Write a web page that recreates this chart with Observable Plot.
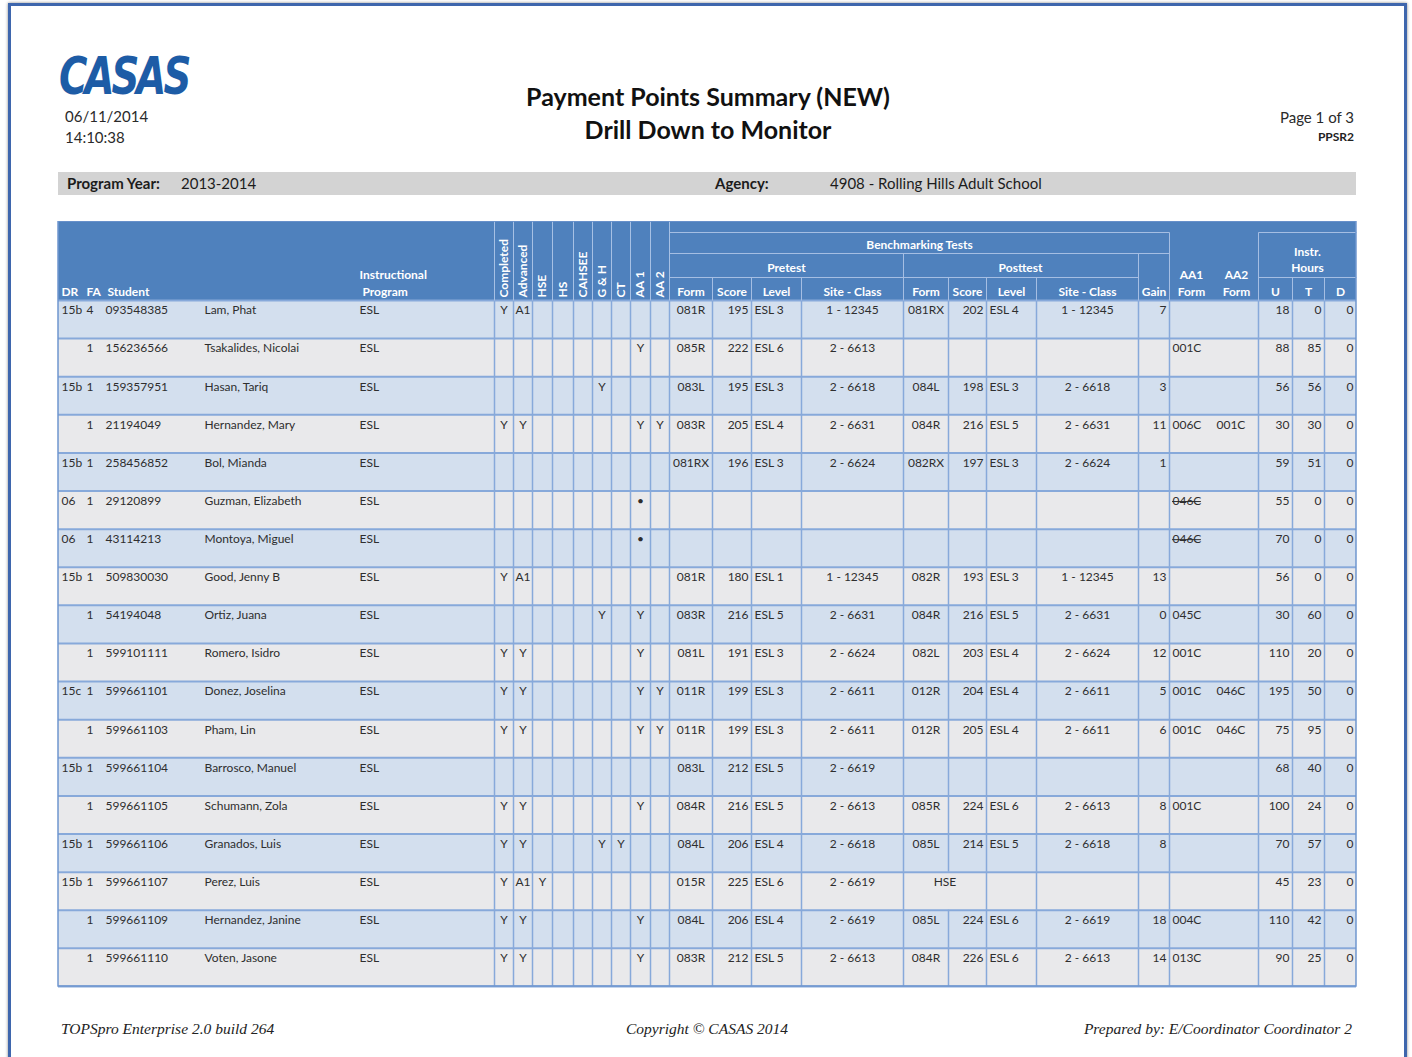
<!DOCTYPE html>
<html><head><meta charset="utf-8">
<script src="https://cdn.jsdelivr.net/npm/d3@7"></script>
<script src="https://cdn.jsdelivr.net/npm/@observablehq/plot@0.6"></script>
<style>
body{margin:0;background:#fff;font-family:Lato,"Open Sans",sans-serif;color:#222;}
#page{position:relative;width:1412px;height:1057px;overflow:hidden;background:#fff;}
.frame{position:absolute;left:8px;top:3px;width:1393px;height:1120px;border:3px solid #3e66ad;box-shadow:0 0 3px #8a8a8a;}
.abs{position:absolute;white-space:nowrap;}
.logo{left:59px;top:46px;font-family:"DejaVu Sans",sans-serif;font-weight:bold;font-style:italic;font-size:52px;line-height:60px;letter-spacing:-4px;color:#1d5ca6;transform:scaleX(0.745);transform-origin:left center;}
.small{font-size:15px;line-height:18px;color:#2a2a2a;}
.title{left:0;width:1416px;text-align:center;font-weight:bold;font-size:25px;line-height:30px;color:#111;}
.bar{left:58px;top:172px;width:1298px;height:23px;background:#d3d3d3;}
.bar span{position:absolute;top:2px;font-size:15px;line-height:19px;color:#1c1c1c;}
.foot{top:1020px;font-family:"Liberation Serif","Times New Roman",serif;font-style:italic;font-size:15.5px;color:#222;}
#chart{position:absolute;left:0;top:221px;}
</style></head>
<body><div id="page">
<div class="frame"></div>
<div class="abs logo">CASAS</div>
<div class="abs small" style="left:65px;top:107px">06/11/2014</div>
<div class="abs small" style="left:65px;top:128px">14:10:38</div>
<div class="abs title" style="top:81px">Payment Points Summary (NEW)</div>
<div class="abs title" style="top:114px">Drill Down to Monitor</div>
<div class="abs small" style="right:58px;top:108px">Page 1 of 3</div>
<div class="abs" style="right:58px;top:129px;font-size:12px;font-weight:bold;color:#222">PPSR2</div>
<div class="abs bar">
  <span style="left:9px;font-weight:bold">Program Year:</span>
  <span style="left:123px">2013-2014</span>
  <span style="left:657px;font-weight:bold">Agency:</span>
  <span style="left:772px">4908 - Rolling Hills Adult School</span>
</div>
<div id="chart"></div>
<div class="abs foot" style="left:61px">TOPSpro Enterprise 2.0 build 264</div>
<div class="abs foot" style="left:0;width:1414px;text-align:center">Copyright © CASAS 2014</div>
<div class="abs foot" style="right:60px">Prepared by: E/Coordinator Coordinator 2</div>
</div>
<script>
// ---------------- DATA ----------------
const drCodes = ["15b","","15b","","15b","06","06","15b","","","15c","","15b","","15b","15b","",""];
const faCodes = ["4","1","1","1","1","1","1","1","1","1","1","1","1","1","1","1","1","1"];
const studentIds = ["093548385","156236566","159357951","21194049","258456852","29120899","43114213","509830030","54194048","599101111","599661101","599661103","599661104","599661105","599661106","599661107","599661109","599661110"];
const studentNames = ["Lam, Phat","Tsakalides, Nicolai","Hasan, Tariq","Hernandez, Mary","Bol, Mianda","Guzman, Elizabeth","Montoya, Miguel","Good, Jenny B","Ortiz, Juana","Romero, Isidro","Donez, Joselina","Pham, Lin","Barrosco, Manuel","Schumann, Zola","Granados, Luis","Perez, Luis","Hernandez, Janine","Voten, Jasone"];
const programs = ["ESL","ESL","ESL","ESL","ESL","ESL","ESL","ESL","ESL","ESL","ESL","ESL","ESL","ESL","ESL","ESL","ESL","ESL"];
const completedFlags = ["Y","","","Y","","","","Y","","Y","Y","Y","","Y","Y","Y","Y","Y"];
const advancedFlags  = ["A1","","","Y","","","","A1","","Y","Y","Y","","Y","Y","A1","Y","Y"];
const hseFlags       = ["","","","","","","","","","","","","","","","Y","",""];
const hsFlags        = ["","","","","","","","","","","","","","","","","",""];
const cahseeFlags    = ["","","","","","","","","","","","","","","","","",""];
const ghFlags        = ["","","Y","","","","","","Y","","","","","","Y","","",""];
const ctFlags        = ["","","","","","","","","","","","","","","Y","","",""];
const aa1Flags       = ["","Y","","Y","","•","•","","Y","Y","Y","Y","","Y","","","Y","Y"];
const aa2Flags       = ["","","","Y","","","","","","","Y","Y","","","","","",""];
const preForms  = ["081R","085R","083L","083R","081RX","","","081R","083R","081L","011R","011R","083L","084R","084L","015R","084L","083R"];
const preScores = ["195","222","195","205","196","","","180","216","191","199","199","212","216","206","225","206","212"];
const preLevels = ["ESL 3","ESL 6","ESL 3","ESL 4","ESL 3","","","ESL 1","ESL 5","ESL 3","ESL 3","ESL 3","ESL 5","ESL 5","ESL 4","ESL 6","ESL 4","ESL 5"];
const preSites  = ["1 - 12345","2 - 6613","2 - 6618","2 - 6631","2 - 6624","","","1 - 12345","2 - 6631","2 - 6624","2 - 6611","2 - 6611","2 - 6619","2 - 6613","2 - 6618","2 - 6619","2 - 6619","2 - 6613"];
const postForms  = ["081RX","","084L","084R","082RX","","","082R","084R","082L","012R","012R","","085R","085L","HSE","085L","084R"];
const postScores = ["202","","198","216","197","","","193","216","203","204","205","","224","214","","224","226"];
const postLevels = ["ESL 4","","ESL 3","ESL 5","ESL 3","","","ESL 3","ESL 5","ESL 4","ESL 4","ESL 4","","ESL 6","ESL 5","","ESL 6","ESL 6"];
const postSites  = ["1 - 12345","","2 - 6618","2 - 6631","2 - 6624","","","1 - 12345","2 - 6631","2 - 6624","2 - 6611","2 - 6611","","2 - 6613","2 - 6618","","2 - 6619","2 - 6613"];
const gains = ["7","","3","11","1","","","13","0","12","5","6","","8","8","","18","14"];
const aa1Forms = ["","001C","","006C","","046C","046C","","045C","001C","001C","001C","","001C","","","004C","013C"];
const aa1FormVoided = [false,false,false,false,false,true,true,false,false,false,false,false,false,false,false,false,false,false];
const aa2Forms = ["","","","001C","","","","","","","046C","046C","","","","","",""];
const hoursU = [18,88,56,30,59,55,70,56,30,110,195,75,68,100,70,45,110,90];
const hoursT = [0,85,56,30,51,0,0,0,60,20,50,95,40,24,57,23,42,25];
const hoursD = [0,0,0,0,0,0,0,0,0,0,0,0,0,0,0,0,0,0];

// header labels
const rotatedHeaders = ["Completed","Advanced","HSE","HS","CAHSEE","G & H","CT","AA 1","AA 2"];
const groupHeaders = ["Benchmarking Tests","Pretest","Posttest","Instr.","Hours"];
const columnHeaders = ["DR","FA","Student","Instructional","Program","Form","Score","Level","Site - Class","Form","Score","Level","Site - Class","Gain","AA1","Form","AA2","Form","U","T","D"];

// ---------------- LAYOUT ----------------
const W = 1412, headH = 79, rowH = 38.11, nRows = studentIds.length, H = headH + nRows * rowH + 2;
const L = 58, R = 1356;
const FONT = "Lato, 'Open Sans', sans-serif";
const cols = [
  {v: drCodes, x0: 58, x1: 83, a: "start"},
  {v: faCodes, x0: 83, x1: 96, a: "end"},
  {v: studentIds, x0: 102, x1: 201, a: "start"},
  {v: studentNames, x0: 201, x1: 356, a: "start"},
  {v: programs, x0: 356, x1: 494, a: "start"},
  {v: completedFlags, x0: 494, x1: 513, a: "middle"},
  {v: advancedFlags, x0: 513, x1: 532, a: "middle"},
  {v: hseFlags, x0: 532, x1: 552, a: "middle"},
  {v: hsFlags, x0: 552, x1: 573, a: "middle"},
  {v: cahseeFlags, x0: 573, x1: 592, a: "middle"},
  {v: ghFlags, x0: 592, x1: 611, a: "middle"},
  {v: ctFlags, x0: 611, x1: 630, a: "middle"},
  {v: aa1Flags, x0: 630, x1: 650, a: "middle"},
  {v: aa2Flags, x0: 650, x1: 669, a: "middle"},
  {v: preForms, x0: 669, x1: 712, a: "middle"},
  {v: preScores, x0: 712, x1: 751, a: "end"},
  {v: preLevels, x0: 751, x1: 801, a: "start"},
  {v: preSites, x0: 801, x1: 903, a: "middle"},
  {v: postForms, x0: 903, x1: 948, a: "middle", merge: 986},
  {v: postScores, x0: 948, x1: 986, a: "end"},
  {v: postLevels, x0: 986, x1: 1036, a: "start"},
  {v: postSites, x0: 1036, x1: 1138, a: "middle"},
  {v: gains, x0: 1138, x1: 1169, a: "end"},
  {v: aa1Forms, x0: 1169, x1: 1213, a: "start", strike: aa1FormVoided},
  {v: aa2Forms, x0: 1213, x1: 1258, a: "start"},
  {v: hoursU, x0: 1258, x1: 1292, a: "end"},
  {v: hoursT, x0: 1292, x1: 1324, a: "end"},
  {v: hoursD, x0: 1324, x1: 1356, a: "end"}
];
const bodyEdges = [494,513,532,552,573,592,611,630,650,669,712,751,801,903,948,986,1036,1138,1169,1258,1292,1324];

const rowTop = i => headH + i * rowH;
const textX = (c, s) => c.a === "start" ? c.x0 + 3 : c.a === "end" ? c.x1 - 3 : (s ? (c.x0 + s) / 2 : (c.x0 + c.x1) / 2);
const ctx = document.createElement("canvas").getContext("2d");
ctx.font = "12px Lato";
const textWidth = t => ctx.measureText(t).width;

const cellTexts = [];
cols.forEach(c => c.v.forEach((val, i) => {
  const t = String(val);
  if (t === "") return;
  const merged = c.merge && postScores[i] === "" && t === "HSE";
  cellTexts.push({x: textX(c, merged ? c.merge : null), y: rowTop(i) + 10, text: t, anchor: c.a, strike: c.strike ? c.strike[i] : false});
}));
const strikes = cellTexts.filter(d => d.strike).map(d => ({x1: d.x, x2: d.x + textWidth(d.text), y: d.y + 0.5}));

const rowBands = studentIds.map((id, i) => ({y1: rowTop(i), y2: rowTop(i + 1), fill: i % 2 ? "#e9e9eb" : "#d3dfee"}));
const vSegs = [];
studentIds.forEach((id, i) => bodyEdges.forEach(x => {
  if (x === 948 && postForms[i] === "HSE" && postScores[i] === "") return;
  vSegs.push({x, y1: rowTop(i), y2: rowTop(i + 1)});
}));
const hLines = d3.range(nRows + 1).map(i => rowTop(i));

const headerLines = [
  {x1: 669, x2: 1169, y1: 11, y2: 11}, {x1: 1258, x2: 1356, y1: 11, y2: 11},
  {x1: 669, x2: 1169, y1: 32, y2: 32},
  {x1: 669, x2: 1138, y1: 56, y2: 56}, {x1: 1258, x2: 1356, y1: 56, y2: 56},
  ...[494,513,532,552,573,592,611,630,650,669].map(x => ({x1: x, x2: x, y1: 0, y2: headH})),
  ...[903,1138].map(x => ({x1: x, x2: x, y1: 32, y2: headH})),
  ...[1169,1258].map(x => ({x1: x, x2: x, y1: 11, y2: headH})),
  ...[712,751,801,948,986,1036,1292,1324].map(x => ({x1: x, x2: x, y1: 56, y2: headH}))
];
const rotX = [503.5,522.5,542,562.5,582.5,601.5,620.5,640,659.5];
const rotLabels = rotatedHeaders.map((t, k) => ({text: t, x: rotX[k], y: 76}));
const groupPos = [[919, 24], [786, 47], [1020, 47], [1307, 31], [1307, 47]];
const groupLabels = groupHeaders.map((t, k) => ({text: t, x: groupPos[k][0], y: groupPos[k][1]}));
const colPos = [[61,71,"start"],[86,71,"start"],[107,71,"start"],[359,54,"start"],[362,71,"start"],
  [690.5,71,"middle"],[731.5,71,"middle"],[776,71,"middle"],[852,71,"middle"],
  [925.5,71,"middle"],[967,71,"middle"],[1011,71,"middle"],[1087,71,"middle"],[1153.5,71,"middle"],
  [1191,54,"middle"],[1191,71,"middle"],[1236,54,"middle"],[1236,71,"middle"],
  [1275,71,"middle"],[1308,71,"middle"],[1340,71,"middle"]];
const colLabels = columnHeaders.map((t, k) => ({text: t, x: colPos[k][0], y: colPos[k][1], anchor: colPos[k][2]}));

const lineCol = "#87a9da";
const txtCol = "#2e2e2e";
const bodyText = anchor => Plot.text(cellTexts.filter(d => d.anchor === anchor),
  {x: "x", y: "y", text: "text", textAnchor: anchor, fill: txtCol, fontSize: 12});
const chart = Plot.plot({
  width: W, height: H,
  margin: 0,
  x: {type: "linear", domain: [0, W], range: [0, W], axis: null},
  y: {type: "linear", domain: [0, H], range: [0, H], axis: null},
  style: {fontFamily: FONT, background: "transparent"},
  marks: [
    Plot.rect(rowBands, {x1: L, x2: R, y1: "y1", y2: "y2", fill: "fill"}),
    Plot.rect([0], {x1: L, x2: R, y1: 0, y2: headH, fill: "#4f81bd"}),
    Plot.ruleY(hLines, {x1: L, x2: R, y: d => d, stroke: lineCol, strokeWidth: 2}),
    Plot.ruleX(vSegs, {x: "x", y1: "y1", y2: "y2", stroke: lineCol, strokeWidth: 1.5}),
    Plot.link(headerLines, {x1: "x1", x2: "x2", y1: "y1", y2: "y2", stroke: "#a7c0e4", strokeWidth: 1}),
    Plot.rect([0], {x1: L, x2: R, y1: 0, y2: H - 2, fill: "none", stroke: "#6f96cf", strokeWidth: 1.5}),
    Plot.text(rotLabels, {x: "x", y: "y", text: "text", rotate: -90, textAnchor: "start", fill: "white", fontWeight: "bold", fontSize: 12}),
    Plot.text(groupLabels, {x: "x", y: "y", text: "text", textAnchor: "middle", fill: "white", fontWeight: "bold", fontSize: 12}),
    Plot.text(colLabels.filter(d => d.anchor === "start"), {x: "x", y: "y", text: "text", textAnchor: "start", fill: "white", fontWeight: "bold", fontSize: 12}),
    Plot.text(colLabels.filter(d => d.anchor === "middle"), {x: "x", y: "y", text: "text", textAnchor: "middle", fill: "white", fontWeight: "bold", fontSize: 12}),
    bodyText("start"), bodyText("middle"), bodyText("end"),
    Plot.ruleY(strikes, {x1: "x1", x2: "x2", y: "y", stroke: txtCol, strokeWidth: 1})
  ]
});
document.getElementById("chart").appendChild(chart);
</script>
</body></html>
